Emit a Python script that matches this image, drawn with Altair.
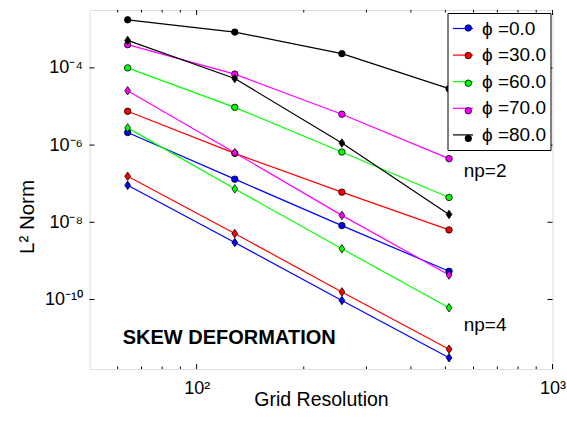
import altair as alt
import pandas as pd

# ---------------- data ----------------
x_res = [64, 128, 256, 512]
phi_labels = ["ϕ =0.0", "ϕ =30.0", "ϕ =60.0", "ϕ =70.0", "ϕ =80.0"]
colors = ["#0000ff", "#ff0000", "#00ff00", "#ff00ff", "#000000"]

# np=2 (circles)
np2_phi0 = [2.12e-6, 1.31e-7, 8.2e-9, 5.37e-10]
np2_phi30 = [7.5e-6, 6.1e-7, 6.04e-8, 6.35e-9]
np2_phi60 = [1.0e-4, 9.5e-6, 6.6e-7, 4.4e-8]
np2_phi70 = [3.99e-4, 6.9e-5, 6.3e-6, 4.45e-7]
np2_phi80 = [1.76e-3, 8.45e-4, 2.34e-4, 2.9e-5]
# np=4 (diamonds)
np4_phi0 = [9.1e-8, 2.99e-9, 9.4e-11, 3.08e-12]
np4_phi30 = [1.56e-7, 5.1e-9, 1.57e-10, 5.15e-12]
np4_phi60 = [2.79e-6, 7.36e-8, 2.06e-9, 6.1e-11]
np4_phi70 = [2.56e-5, 6.35e-7, 1.51e-8, 4.3e-10]
np4_phi80 = [5.15e-4, 5.3e-5, 1.13e-6, 1.6e-8]

np2_series = [np2_phi0, np2_phi30, np2_phi60, np2_phi70, np2_phi80]
np4_series = [np4_phi0, np4_phi30, np4_phi60, np4_phi70, np4_phi80]

x_tick_values = [100, 1000]
x_tick_labels = ["10²", "10³"]
x_minor_ticks = [60, 70, 80, 90, 200, 300, 400, 500, 600, 700, 800, 900]
y_tick_values = [1e-10, 1e-8, 1e-6, 1e-4]
y_tick_labels = ["10⁻¹⁰", "10⁻⁸", "10⁻⁶", "10⁻⁴"]

ann_text = ["np=2", "np=4"]
ann_x = [563.0, 563.0]
ann_y = [1.5e-7, 1.51e-11]
title_text = ["SKEW DEFORMATION"]
title_x = [62.0]
title_y = [6.95e-12]

# ---------------- tables ----------------
pt_labels = [l + " " for l in phi_labels]   # separate (label-less) legend for the dots
rows = []
for lab, plab, s2, s4 in zip(phi_labels, pt_labels, np2_series, np4_series):
    for xv, v in zip(x_res, s2):
        rows.append(dict(x=xv, y=v, phi=lab, phi_pt=plab, np="np=2", grp=lab + "|2"))
    for xv, v in zip(x_res, s4):
        rows.append(dict(x=xv, y=v, phi=lab, phi_pt=plab, np="np=4", grp=lab + "|4"))
df = pd.DataFrame(rows)

df_xmaj = pd.DataFrame({"x": x_tick_values})
df_xmin = pd.DataFrame({"x": x_minor_ticks})
df_y = pd.DataFrame({"y": y_tick_values})
df_ann = pd.DataFrame({"x": ann_x, "y": ann_y, "t": ann_text})
df_title = pd.DataFrame({"x": title_x, "y": title_y, "t": title_text})


def label_expr(vals, labs):
    expr = "'" + labs[-1] + "'"
    for v, l in reversed(list(zip(vals[:-1], labs[:-1]))):
        expr = f"datum.value < {v * 3} ? '{l}' : " + expr
    return expr


W, H = 463, 359
FONT = "Liberation Sans"

x_scale = alt.Scale(type="log", domain=[50, 1000], nice=False)
y_scale = alt.Scale(type="log", domain=[1.58e-12, 3.16e-3], nice=False)

x_axis = alt.Axis(values=x_tick_values, labelExpr=label_expr(x_tick_values, x_tick_labels),
                  ticks=False, tickSize=0, grid=False, domain=False, labelPadding=10,
                  labelFontSize=18, labelFont=FONT, labelColor="black",
                  title="Grid Resolution", titleFontSize=19.5, titleFont=FONT,
                  titleFontWeight="normal", titleColor="black",
                  titleBaseline="alphabetic", titleY=36, labelFlush=False, labelOverlap=False)
y_axis = alt.Axis(values=y_tick_values, labelExpr=label_expr(y_tick_values, y_tick_labels),
                  ticks=False, tickSize=0, grid=False, domain=False, labelPadding=7,
                  labelFontSize=18, labelFont=FONT, labelColor="black",
                  title="L² Norm", titleFontSize=20.5, titleFont=FONT,
                  titleFontWeight="normal", titleColor="black",
                  titleAlign="center", titleBaseline="alphabetic", titleX=-56,
                  titleY=H / 2 + 27, labelFlush=False, labelOverlap=False)

X = lambda f="x": alt.X(f + ":Q", scale=x_scale, axis=x_axis, title="Grid Resolution")
Y = lambda f="y": alt.Y(f + ":Q", scale=y_scale, axis=y_axis, title="L² Norm")

base = alt.Chart(df)

lines = base.mark_line(strokeWidth=1.2).encode(
    x=X(), y=Y(),
    stroke=alt.Stroke("phi:N", scale=alt.Scale(domain=phi_labels, range=colors),
                      legend=alt.Legend(title=None, orient="none", legendX=358, legendY=3,
                                        symbolType="stroke", symbolSize=400,
                                        symbolStrokeWidth=1.2, labelFontSize=19,
                                        labelFont=FONT, labelColor="black", labelOffset=8,
                                        padding=4.5, rowPadding=5.6, strokeColor="black",
                                        fillColor="white", labelLimit=300, zindex=0)),
    detail="grp:N",
    order="x:Q",
)

fill_enc = alt.Fill("phi_pt:N", scale=alt.Scale(domain=pt_labels, range=colors),
                     legend=alt.Legend(title=None, orient="none", legendX=364.8, legendY=4,
                                       symbolType="circle", symbolSize=42,
                                       symbolStrokeColor="black", symbolStrokeWidth=0.8,
                                       labelFontSize=19, labelFont=FONT, labelExpr="''",
                                       labelOffset=8, padding=4.5, rowPadding=7.6,
                                       labelLimit=300, zindex=1))

pts2 = base.transform_filter(alt.datum.np == "np=2").mark_point(
    filled=True, shape="circle", size=42, stroke="black", strokeWidth=0.8, opacity=1
).encode(x=X(), y=Y(), fill=fill_enc)

pts4 = base.transform_filter(alt.datum.np == "np=4").mark_point(
    filled=True, shape="M0,-1L0.68,0L0,1L-0.68,0Z", size=72, stroke="black",
    strokeWidth=0.8, opacity=1
).encode(x=X(), y=Y(), fill=fill_enc)

MAJ, MIN, YT = 5, 2.5, 5
tick_style = dict(color="black", strokeWidth=1)

bot_maj = alt.Chart(df_xmaj).mark_rule(**tick_style).encode(
    x=X(), y=alt.value(H), y2=alt.value(H - MAJ))
top_maj = alt.Chart(df_xmaj).mark_rule(**tick_style).encode(
    x=X(), y=alt.value(0), y2=alt.value(MAJ))
bot_min = alt.Chart(df_xmin).mark_rule(**tick_style).encode(
    x=X(), y=alt.value(H), y2=alt.value(H - MIN))
top_min = alt.Chart(df_xmin).mark_rule(**tick_style).encode(
    x=X(), y=alt.value(0), y2=alt.value(MIN))
left_t = alt.Chart(df_y).mark_rule(**tick_style).encode(
    y=Y(), x=alt.value(0), x2=alt.value(YT))
right_t = alt.Chart(df_y).mark_rule(**tick_style).encode(
    y=Y(), x=alt.value(W), x2=alt.value(W - YT))

ann = alt.Chart(df_ann).mark_text(align="left", baseline="alphabetic", fontSize=19,
                                  font=FONT, color="black").encode(
    x=X(), y=Y(), text="t:N")
ttl = alt.Chart(df_title).mark_text(align="left", baseline="alphabetic", fontSize=20,
                                    fontWeight="bold", font=FONT, color="black").encode(
    x=X(), y=Y(), text="t:N")

chart = alt.layer(
    lines, pts2, pts4, bot_maj, top_maj, bot_min, top_min, left_t, right_t, ann, ttl
).properties(
    width=W, height=H,
    padding={"left": 89.5, "top": 10, "right": 14.5, "bottom": 53},
    autosize="none",
    background="white",
).configure_view(stroke="black", strokeWidth=1.2).configure(font=FONT)

chart.save("out.html", embed_options={"renderer": "svg", "actions": False})
